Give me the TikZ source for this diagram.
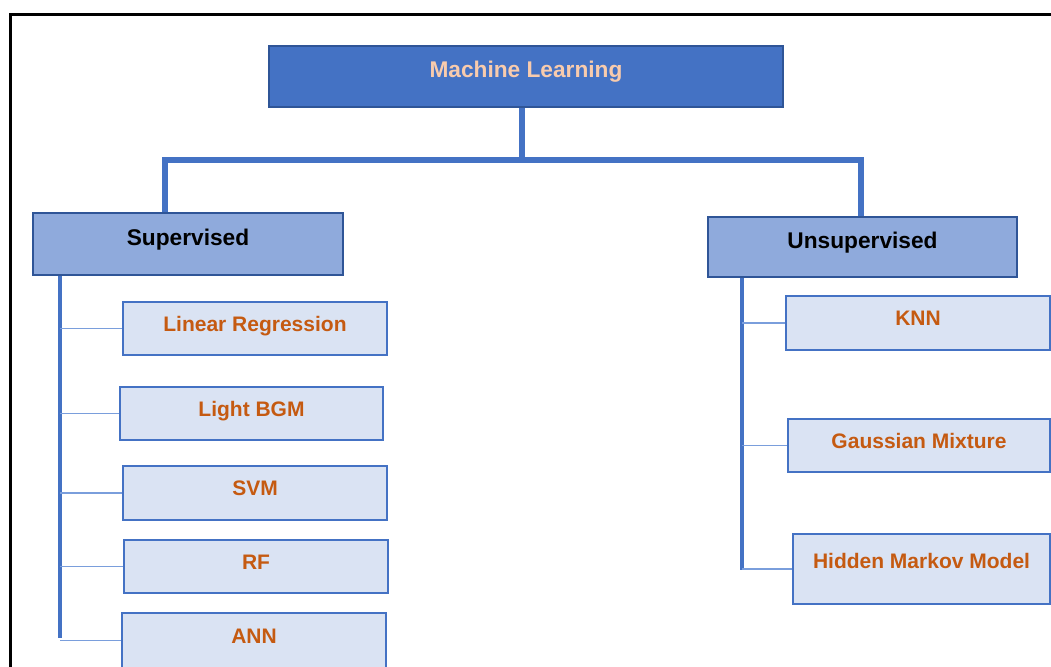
\documentclass[tikz,border=0pt]{standalone}
\usepackage{fontspec}
\setmainfont{Liberation Sans}
\usepackage{tikz}

\definecolor{mlblue}{HTML}{4472C4}
\definecolor{darkblue}{HTML}{2F5597}
\definecolor{midblue}{HTML}{8FAADC}
\definecolor{paleblue}{HTML}{DAE3F3}
\definecolor{twigblue}{HTML}{7A9EDC}
\definecolor{itemorange}{HTML}{C55A11}
\definecolor{peach}{HTML}{F8CBAD}

\begin{document}
\begin{tikzpicture}[x=1pt, y=-1pt,
		rootbox/.style={draw=darkblue, line width=2pt, fill=mlblue, inner sep=0pt, text=peach, font=\bfseries\fontsize{22.7}{26}\selectfont, text height=16.3pt, text depth=15pt},
		catbox/.style={draw=darkblue, line width=2pt, fill=midblue, inner sep=0pt, text=black, font=\bfseries\fontsize{22.7}{26}\selectfont, text height=16.3pt, text depth=14pt},
		itembox/.style={draw=mlblue, line width=2pt, fill=paleblue, inner sep=0pt, text=itemorange, font=\bfseries\fontsize{21}{25}\selectfont, text height=15pt, text depth=10pt},
		trunk/.style={draw=mlblue, line width=6.5pt},
		spine/.style={draw=mlblue, line width=4pt},
		twig/.style={draw=twigblue, line width=1.5pt}]
		\useasboundingbox (0,0) rectangle (1051,666);
		\clip (0,0) rectangle (1051,666);
		
		% Frame
		\draw[line width=3pt, black] (10,14.5) rectangle (1080,700);
		
		% Root
		\node[rootbox, minimum width=514pt, minimum height=61pt] (ml) at (526,76.5) {Machine Learning};
		
		% Categories
		\node[catbox, minimum width=310pt, minimum height=62pt] (sup) at (188,244) {Supervised};
		\node[catbox, minimum width=309pt, minimum height=60pt] (unsup) at (862.5,247) {Unsupervised};
		
		% Supervised methods
		\node[itembox, minimum width=264pt, minimum height=53pt] (lr) at (255,328.5) {Linear Regression};
		\node[itembox, minimum width=263pt, minimum height=53pt] (lbgm) at (251.5,413.5) {Light BGM};
		\node[itembox, minimum width=264pt, minimum height=54pt] (svm) at (255,493) {SVM};
		\node[itembox, minimum width=264pt, minimum height=53pt] (rf) at (256,566.5) {RF};
		\node[itembox, minimum width=264pt, minimum height=55pt] (ann) at (254,640.5) {ANN};
		
		% Unsupervised methods
		\node[itembox, minimum width=264pt, minimum height=54pt] (knn) at (918,323) {KNN};
		\node[itembox, minimum width=262pt, minimum height=53pt] (gm) at (919,445.5) {Gaussian Mixture};
		\node[itembox, minimum width=257pt, minimum height=70pt, text depth=16pt] (hmm) at (921.5,569) {Hidden Markov Model};
		
		% Tree
		\coordinate (bar) at (522,160);
		\coordinate (lend) at (60,638);
		\coordinate (rend) at (742,570);
		\draw[trunk] (ml.south -| bar) -- (bar);
		\draw[trunk] ([xshift=-23pt]sup.north) |- (bar) -| ([xshift=-1.5pt]unsup.north);
		\draw[spine] (sup.south -| lend) -- (lend);
		\draw[spine] (unsup.south -| rend) -- (rend);
		\foreach \b in {lr,lbgm,svm,rf,ann}
			\draw[twig] (\b.west) -- (\b.west -| lend);
		\foreach \b in {knn,gm,hmm}
			\draw[twig] (\b.west) -- (\b.west -| rend);
	\end{tikzpicture}
\end{document}
